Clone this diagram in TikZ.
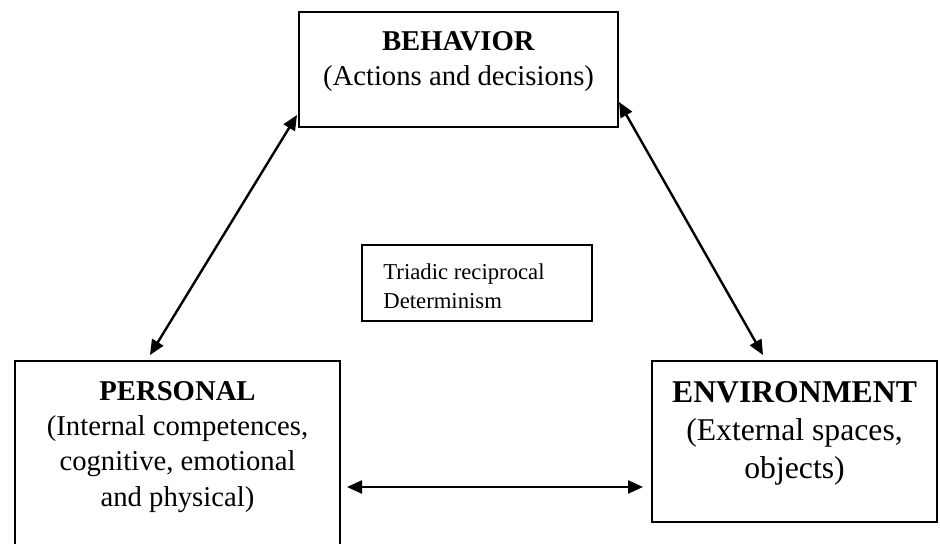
\documentclass[tikz,border=0pt]{standalone}
\usepackage{fontspec}
\setmainfont{Liberation Serif}
\usetikzlibrary{arrows.meta}

\begin{document}
\begin{tikzpicture}[x=0.5pt,y=-0.5pt,>={Triangle[length=7.5pt,width=6.5pt]},
        box/.style={draw,line width=1pt,inner sep=0pt,outer sep=0pt},
        title/.style={inner sep=0pt,align=center,font=\fontsize{14.35}{17.6}\selectfont},
        link/.style={<->,line width=1.2pt}]
            \useasboundingbox (0,0) rectangle (940,544);
            % the three corners of the triad
            \node[box,minimum width=159.5pt,minimum height=57.5pt] (beh) at (458.5,69.5) {};
            \node[box,minimum width=162.5pt,minimum height=93.5pt] (per) at (177.5,454.5) {};
            \node[box,minimum width=142.5pt,minimum height=80.5pt] (env) at (794.5,441.5) {};
            \node[box,minimum width=115pt,minimum height=38pt] (tri) at (477,283) {};
            \node[title,anchor=north] (behtext) at (458.5,31)
                {\textbf{BEHAVIOR}\\(Actions and decisions)};
            \node[title,anchor=north] (pertext) at (177.5,381)
                {\textbf{PERSONAL}\\(Internal competences,\\cognitive, emotional\\and physical)};
            \node[title,anchor=north,font=\fontsize{15.85}{19}\selectfont] (envtext) at (794.5,381)
                {\textbf{ENVIRONMENT}\\(External spaces,\\objects)};
            \node[title,anchor=north west,align=left,font=\fontsize{11.35}{14.5}\selectfont] (tritext) at (383,263)
                {Triadic reciprocal\\Determinism};
            % reciprocal links
            \draw[link] ([xshift=-13.75pt,yshift=3pt]per.north) -- ([xshift=-1pt,yshift=6pt]beh.south west);
            \draw[link] ([xshift=0.5pt,yshift=12.5pt]beh.south east) -- ([xshift=-15.75pt,yshift=3pt]env.north);
            \draw[link] ([xshift=3.5pt,yshift=-16.25pt]per.east) -- ([xshift=-4.5pt,yshift=-22.75pt]env.west);
        \end{tikzpicture}
\end{document}
